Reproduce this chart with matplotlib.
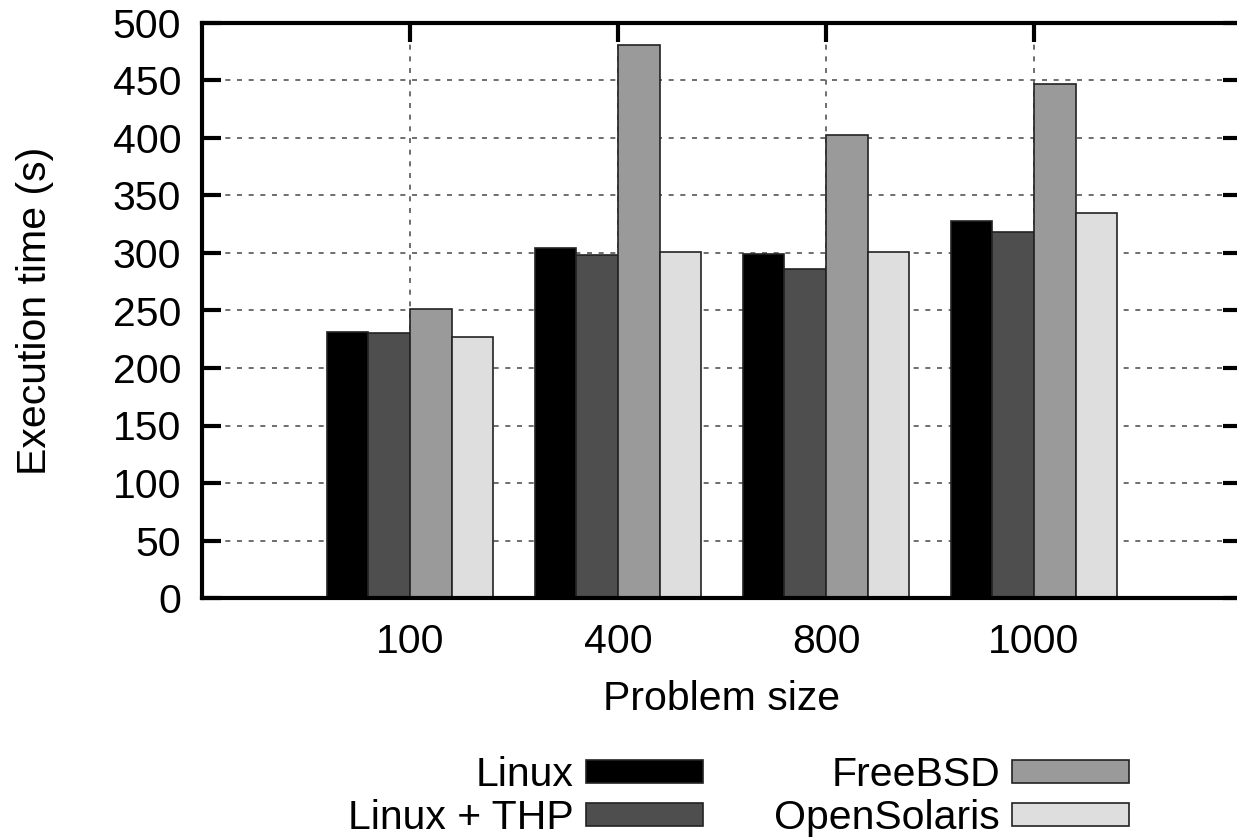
import numpy as np
import matplotlib
matplotlib.use("Agg")
import matplotlib.pyplot as plt

plt.rcParams['font.family'] = ['Liberation Sans', 'DejaVu Sans']

# execution times (s) per problem size
sizes = ["100", "400", "800", "1000"]
systems = ["Linux", "Linux + THP", "FreeBSD", "OpenSolaris"]
linux = [231, 304, 299, 328]
linux_thp = [230, 298, 286, 318]
freebsd = [251, 481, 403, 447]
opensolaris = [227, 301, 301, 335]

series = [linux, linux_thp, freebsd, opensolaris]
fills = ["#000000", "#4e4e4e", "#9a9a9a", "#dedede"]
fs = 29.5

fig = plt.figure(figsize=(12.37, 8.39), dpi=100)
ax = fig.add_axes([202 / 1237, 1 - 598 / 839, 1040 / 1237, 575 / 839])

x = np.arange(len(sizes))
w = 0.2
for i, (vals, col) in enumerate(zip(series, fills)):
    ax.bar(x + (i - 1.5) * w, vals, width=w, color=col, edgecolor="#222222",
           linewidth=1.2, label=systems[i], zorder=3)

ax.set_xlim(-1, 4)
ax.set_ylim(0, 500)
ax.set_xticks(x)
ax.set_xticklabels(sizes)
ax.set_yticks(np.arange(0, 501, 50))

ax.grid(True, linestyle=(0, (3, 4)), color="#555555", linewidth=1.2, zorder=0)
ax.tick_params(direction="in", length=14, width=3, labelsize=fs,
               top=True, right=True)
ax.tick_params(axis="x", pad=18)
ax.tick_params(axis="y", pad=15)
for sp in ax.spines.values():
    sp.set_linewidth(3)
    sp.set_zorder(4)

ax.set_xlabel("Problem size", fontsize=fs, labelpad=14)
ax.set_ylabel("Execution time (s)", fontsize=fs, labelpad=42)

fig.legend(loc="center", bbox_to_anchor=(0.597, 0.0505), ncol=2,
           markerfirst=False, frameon=False, fontsize=fs,
           handlelength=2.85, handleheight=0.51, handletextpad=0.3,
           columnspacing=1.75, labelspacing=0.12, borderpad=0)

fig.savefig("out.png", dpi=100)
